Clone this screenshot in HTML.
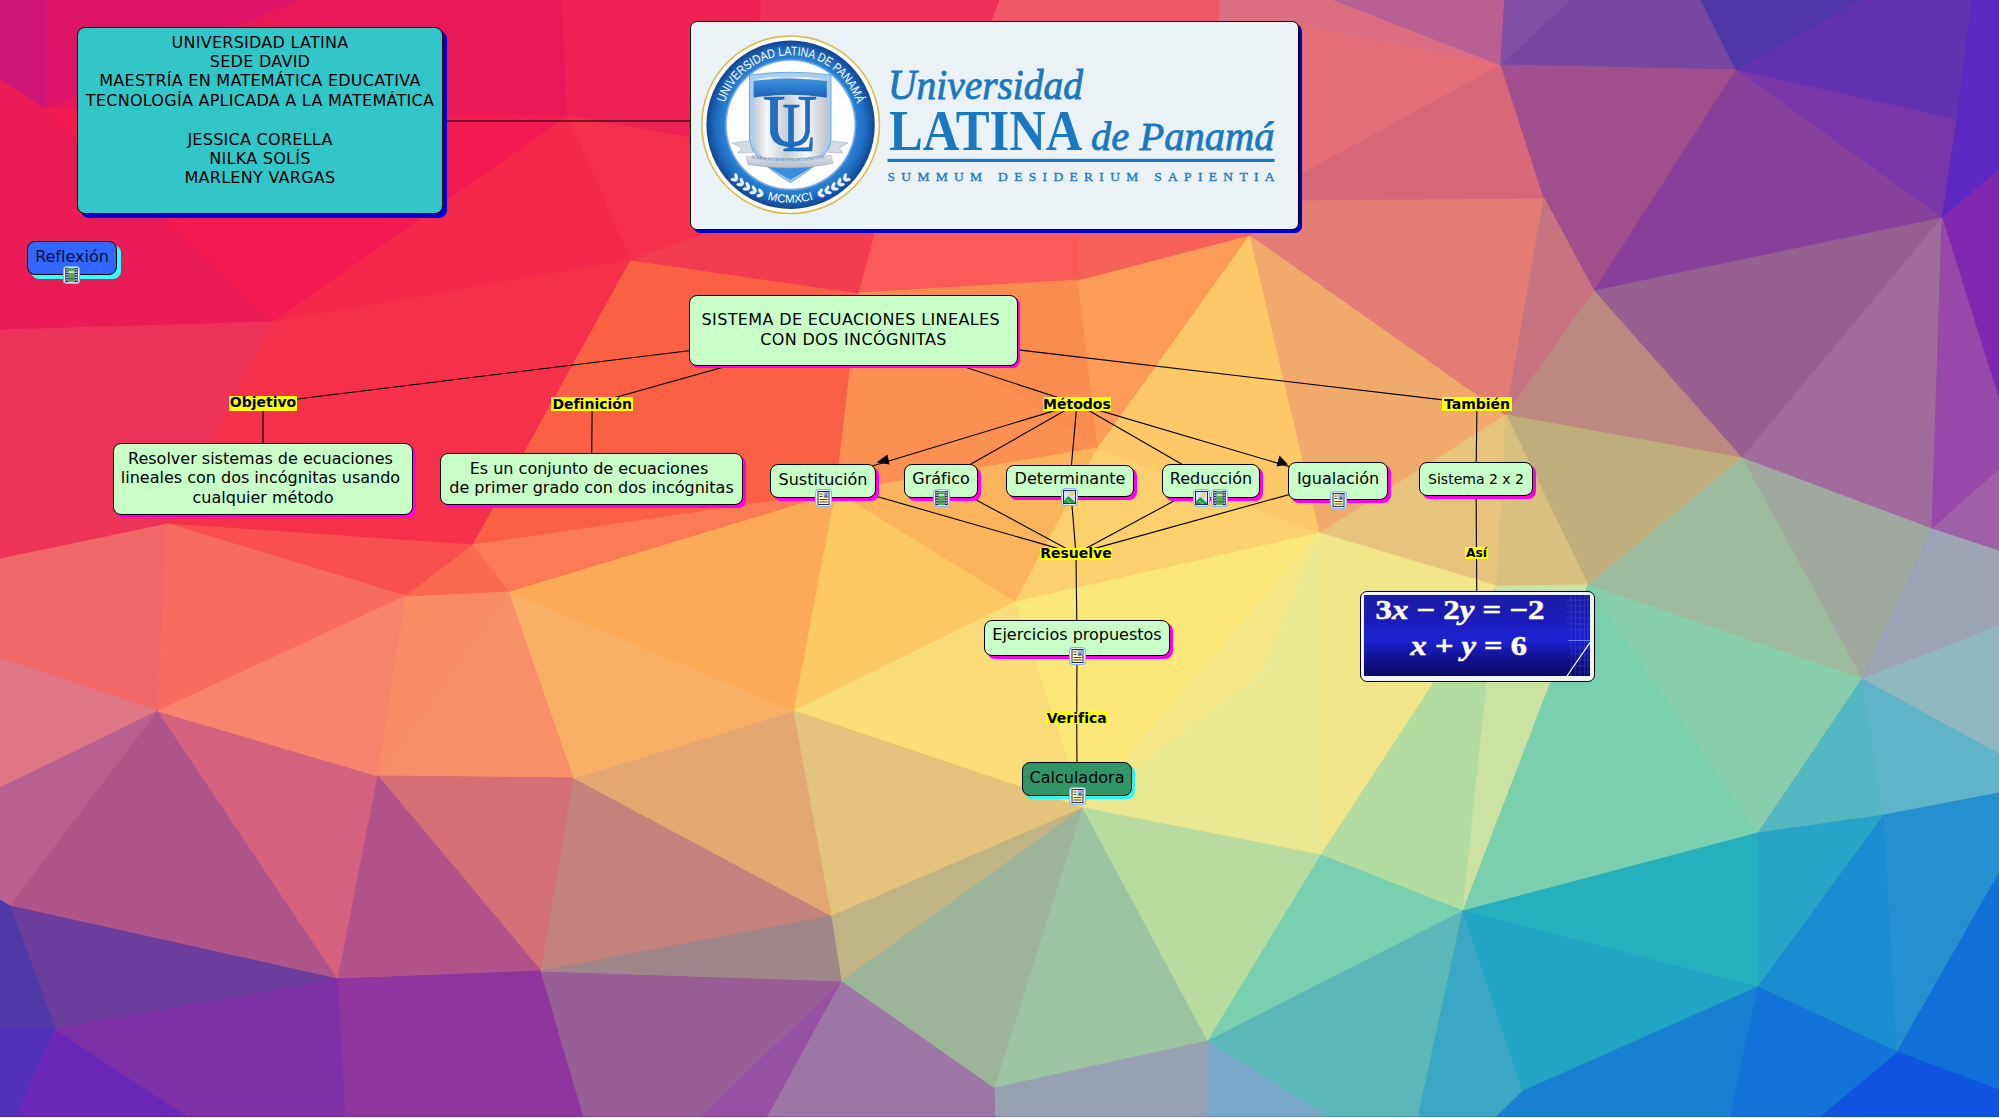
<!DOCTYPE html><html lang="es"><head><meta charset="utf-8"><title>Sistema de ecuaciones lineales con dos incógnitas</title><style>
html,body{margin:0;padding:0;}
body{width:1999px;height:1118px;position:relative;overflow:hidden;background:#f0a060;font-family:"DejaVu Sans","Liberation Sans",sans-serif;color:#000;}
#bg,#ln{position:absolute;left:0;top:0;}
.n{position:absolute;box-sizing:border-box;border:1px solid #000;border-radius:8px;text-align:center;line-height:19.4px;white-space:nowrap;}
.l{position:absolute;font-weight:bold;background:#ffff08;white-space:nowrap;}.l span{position:absolute;left:0;right:0;text-align:center;}
.ic{position:absolute;}
#logo{position:absolute;left:690px;top:21px;width:609px;height:209px;box-sizing:border-box;border:1px solid #000;border-radius:7px;background:#eaf2f5;box-shadow:3px 3px 0 #0000c8;overflow:hidden;}
#eq{position:absolute;left:1360px;top:591px;width:235px;height:91px;box-sizing:border-box;border:1px solid #000;border-radius:7px;background:#eef4f8;overflow:hidden;}
</style></head><body>
<svg id="bg" width="1999" height="1118" viewBox="0 0 1999 1118" shape-rendering="geometricPrecision">
<rect width="1999" height="1118" fill="#f0a060"/>
<polygon fill="#f41c50" stroke="#f41c50" stroke-width="1" points="0,0 760,0 760,640 0,640"/>
<polygon fill="#ee3058" stroke="#ee3058" stroke-width="1" points="760,0 1000,0 900,260 760,260"/>
<polygon fill="#f0586a" stroke="#f0586a" stroke-width="1" points="1000,0 1220,0 1220,260 900,260"/>
<polygon fill="#e66e78" stroke="#e66e78" stroke-width="1" points="1220,0 1300,0 1300,260 1220,260"/>
<polygon fill="#dc6e84" stroke="#dc6e84" stroke-width="1" points="1220,0 1300,0 1300,24 1220,24"/>
<polygon fill="#de1468" stroke="#de1468" stroke-width="1" points="46,0 300,0 46,109"/>
<polygon fill="#e81858" stroke="#e81858" stroke-width="1" points="300,0 561,0 568,116 46,109"/>
<polygon fill="#cc1678" stroke="#cc1678" stroke-width="1" points="0,0 46,0 46,109 0,80"/>
<polygon fill="#ea1c58" stroke="#ea1c58" stroke-width="1" points="0,80 46,109 273,322 0,330"/>
<polygon fill="#f41a52" stroke="#f41a52" stroke-width="1" points="46,109 568,116 273,322"/>
<polygon fill="#f4284a" stroke="#f4284a" stroke-width="1" points="568,116 631,260 273,322"/>
<polygon fill="#ee2252" stroke="#ee2252" stroke-width="1" points="561,0 760,0 760,150 568,116"/>
<polygon fill="#f4304c" stroke="#f4304c" stroke-width="1" points="568,116 760,150 760,215 631,260"/>
<polygon fill="#ee3358" stroke="#ee3358" stroke-width="1" points="0,330 273,322 168,524 0,559"/>
<polygon fill="#f5304a" stroke="#f5304a" stroke-width="1" points="273,322 631,260 473,545 168,524"/>
<polygon fill="#f8504e" stroke="#f8504e" stroke-width="1" points="168,524 473,545 406,596"/>
<polygon fill="#f06868" stroke="#f06868" stroke-width="1" points="0,559 168,524 158,711 0,658"/>
<polygon fill="#f86c60" stroke="#f86c60" stroke-width="1" points="168,524 406,596 158,711"/>
<polygon fill="#de7684" stroke="#de7684" stroke-width="1" points="0,658 158,711 0,788"/>
<polygon fill="#b86090" stroke="#b86090" stroke-width="1" points="0,788 158,711 10,906 0,900"/>
<polygon fill="#b0558a" stroke="#b0558a" stroke-width="1" points="158,711 338,979 10,906"/>
<polygon fill="#d4627f" stroke="#d4627f" stroke-width="1" points="158,711 378,776 338,979"/>
<polygon fill="#f8846e" stroke="#f8846e" stroke-width="1" points="158,711 406,596 378,776"/>
<polygon fill="#fa8c64" stroke="#fa8c64" stroke-width="1" points="406,596 509,591 378,776"/>
<polygon fill="#f79068" stroke="#f79068" stroke-width="1" points="509,591 574,778 378,776"/>
<polygon fill="#d57076" stroke="#d57076" stroke-width="1" points="378,776 574,778 541,971"/>
<polygon fill="#b3528a" stroke="#b3528a" stroke-width="1" points="378,776 541,971 338,979"/>
<polygon fill="#6b3e9e" stroke="#6b3e9e" stroke-width="1" points="10,906 338,979 55,1029"/>
<polygon fill="#503aa8" stroke="#503aa8" stroke-width="1" points="0,900 10,906 55,1029 0,1029"/>
<polygon fill="#5030b8" stroke="#5030b8" stroke-width="1" points="0,1029 55,1029 15,1118 0,1118"/>
<polygon fill="#6a28b8" stroke="#6a28b8" stroke-width="1" points="55,1029 190,1118 15,1118"/>
<polygon fill="#7e30a6" stroke="#7e30a6" stroke-width="1" points="55,1029 338,979 346,1118 190,1118"/>
<polygon fill="#8e369e" stroke="#8e369e" stroke-width="1" points="338,979 541,971 584,1118 346,1118"/>
<polygon fill="#985e96" stroke="#985e96" stroke-width="1" points="541,971 842,981 767,1118 584,1118"/>
<polygon fill="#9850a4" stroke="#9850a4" stroke-width="1" points="842,981 767,1118 700,1118"/>
<polygon fill="#9c76a4" stroke="#9c76a4" stroke-width="1" points="842,981 995,1088 996,1118 767,1118"/>
<polygon fill="#c3827c" stroke="#c3827c" stroke-width="1" points="574,778 832,916 541,971"/>
<polygon fill="#a0858a" stroke="#a0858a" stroke-width="1" points="541,971 832,916 842,981"/>
<polygon fill="#e3a872" stroke="#e3a872" stroke-width="1" points="794,711 574,778 832,916"/>
<polygon fill="#f9b066" stroke="#f9b066" stroke-width="1" points="509,591 794,711 574,778"/>
<polygon fill="#fcaa58" stroke="#fcaa58" stroke-width="1" points="509,591 836,492 794,711"/>
<polygon fill="#fa6044" stroke="#fa6044" stroke-width="1" points="631,260 859,293 836,492 509,591 473,545"/>
<polygon fill="#fa6a50" stroke="#fa6a50" stroke-width="1" points="473,545 406,596 509,591"/>
<polygon fill="#fb7c54" stroke="#fb7c54" stroke-width="1" points="473,545 836,492 509,591"/>
<polygon fill="#f43c50" stroke="#f43c50" stroke-width="1" points="760,215 631,260 859,293 880,215"/>
<polygon fill="#fa5a58" stroke="#fa5a58" stroke-width="1" points="859,293 880,215 1078,215 1078,280"/>
<polygon fill="#fb8c50" stroke="#fb8c50" stroke-width="1" points="859,293 1078,280 1098,448"/>
<polygon fill="#fb9052" stroke="#fb9052" stroke-width="1" points="859,293 1098,448 836,492"/>
<polygon fill="#fcb45c" stroke="#fcb45c" stroke-width="1" points="836,492 1098,448 1015,602"/>
<polygon fill="#fcc962" stroke="#fcc962" stroke-width="1" points="836,492 1015,602 794,711"/>
<polygon fill="#fcd06c" stroke="#fcd06c" stroke-width="1" points="1098,448 1320,533 1015,602"/>
<polygon fill="#fc9c58" stroke="#fc9c58" stroke-width="1" points="1078,280 1250,235 1098,448"/>
<polygon fill="#fcc868" stroke="#fcc868" stroke-width="1" points="1250,235 1320,533 1098,448"/>
<polygon fill="#f0aa6c" stroke="#f0aa6c" stroke-width="1" points="1250,235 1506,415 1320,533"/>
<polygon fill="#e47c76" stroke="#e47c76" stroke-width="1" points="1250,235 1300,200 1544,198 1506,415"/>
<polygon fill="#f8605a" stroke="#f8605a" stroke-width="1" points="1078,215 1078,280 1250,235 1300,200 1300,215"/>
<polygon fill="#e66e78" stroke="#e66e78" stroke-width="1" points="1290,0 1334,0 1501,65 1300,175 1290,175"/>
<polygon fill="#dc6e84" stroke="#dc6e84" stroke-width="1" points="1290,0 1334,0 1501,65 1290,22"/>
<polygon fill="#d86878" stroke="#d86878" stroke-width="1" points="1501,65 1544,198 1300,200 1300,175"/>
<polygon fill="#b86094" stroke="#b86094" stroke-width="1" points="1334,0 1505,0 1501,65"/>
<polygon fill="#7848a0" stroke="#7848a0" stroke-width="1" points="1505,0 1701,0 1736,70 1501,65"/>
<polygon fill="#8050a4" stroke="#8050a4" stroke-width="1" points="1505,0 1570,0 1501,65"/>
<polygon fill="#5038a8" stroke="#5038a8" stroke-width="1" points="1701,0 1862,0 1736,70"/>
<polygon fill="#6232b0" stroke="#6232b0" stroke-width="1" points="1862,0 1972,0 1957,120 1736,70"/>
<polygon fill="#7838aa" stroke="#7838aa" stroke-width="1" points="1736,70 1957,120 1942,218"/>
<polygon fill="#5c28c0" stroke="#5c28c0" stroke-width="1" points="1972,0 1999,0 1999,170 1942,218 1957,120"/>
<polygon fill="#8028b0" stroke="#8028b0" stroke-width="1" points="1942,218 1999,170 1999,400"/>
<polygon fill="#a0508f" stroke="#a0508f" stroke-width="1" points="1501,65 1736,70 1544,198"/>
<polygon fill="#a04e8c" stroke="#a04e8c" stroke-width="1" points="1736,70 1594,291 1544,198"/>
<polygon fill="#88409a" stroke="#88409a" stroke-width="1" points="1736,70 1942,218 1594,291"/>
<polygon fill="#c87480" stroke="#c87480" stroke-width="1" points="1544,198 1594,291 1506,415"/>
<polygon fill="#966090" stroke="#966090" stroke-width="1" points="1594,291 1942,218 1742,458"/>
<polygon fill="#bc8880" stroke="#bc8880" stroke-width="1" points="1594,291 1742,458 1506,415"/>
<polygon fill="#a06c9c" stroke="#a06c9c" stroke-width="1" points="1942,218 1932,529 1742,458"/>
<polygon fill="#9848a8" stroke="#9848a8" stroke-width="1" points="1942,218 1999,400 1999,470 1932,529"/>
<polygon fill="#a060a8" stroke="#a060a8" stroke-width="1" points="1932,529 1999,470 1999,551"/>
<polygon fill="#c0ad7c" stroke="#c0ad7c" stroke-width="1" points="1506,415 1742,458 1588,585"/>
<polygon fill="#a0a8a0" stroke="#a0a8a0" stroke-width="1" points="1742,458 1932,529 1862,679"/>
<polygon fill="#9cba9c" stroke="#9cba9c" stroke-width="1" points="1742,458 1862,679 1588,585"/>
<polygon fill="#9ca4b6" stroke="#9ca4b6" stroke-width="1" points="1932,529 1999,551 1999,626 1862,679"/>
<polygon fill="#90b8c0" stroke="#90b8c0" stroke-width="1" points="1862,679 1999,626 1999,754"/>
<polygon fill="#e6c47c" stroke="#e6c47c" stroke-width="1" points="1320,533 1506,415 1497,586"/>
<polygon fill="#d8c080" stroke="#d8c080" stroke-width="1" points="1506,415 1588,585 1497,586"/>
<polygon fill="#fbe878" stroke="#fbe878" stroke-width="1" points="1015,602 1320,533 1083,808"/>
<polygon fill="#fadc78" stroke="#fadc78" stroke-width="1" points="1015,602 1083,808 794,711"/>
<polygon fill="#e9e890" stroke="#e9e890" stroke-width="1" points="1320,533 1321,855 1083,808"/>
<polygon fill="#f4e686" stroke="#f4e686" stroke-width="1" points="1320,533 1262,672 1083,808"/>
<polygon fill="#f2e488" stroke="#f2e488" stroke-width="1" points="1320,533 1497,586 1321,855"/>
<polygon fill="#b2dca0" stroke="#b2dca0" stroke-width="1" points="1321,855 1497,586 1463,911"/>
<polygon fill="#cce2a0" stroke="#cce2a0" stroke-width="1" points="1497,586 1588,585 1463,911"/>
<polygon fill="#7acfae" stroke="#7acfae" stroke-width="1" points="1588,585 1758,833 1463,911"/>
<polygon fill="#88ceac" stroke="#88ceac" stroke-width="1" points="1588,585 1862,679 1758,833"/>
<polygon fill="#54b6c0" stroke="#54b6c0" stroke-width="1" points="1862,679 1884,815 1758,833"/>
<polygon fill="#60b4c8" stroke="#60b4c8" stroke-width="1" points="1862,679 1999,754 1999,793 1884,815"/>
<polygon fill="#e4c47c" stroke="#e4c47c" stroke-width="1" points="794,711 1083,808 832,916"/>
<polygon fill="#c0b484" stroke="#c0b484" stroke-width="1" points="832,916 1083,808 842,981"/>
<polygon fill="#9cb498" stroke="#9cb498" stroke-width="1" points="842,981 1083,808 995,1088"/>
<polygon fill="#9cc4a0" stroke="#9cc4a0" stroke-width="1" points="1083,808 995,1088 1208,1041"/>
<polygon fill="#b8dca0" stroke="#b8dca0" stroke-width="1" points="1083,808 1208,1041 1321,855"/>
<polygon fill="#78d0b0" stroke="#78d0b0" stroke-width="1" points="1321,855 1208,1041 1463,911"/>
<polygon fill="#98a0b4" stroke="#98a0b4" stroke-width="1" points="995,1088 1208,1041 1208,1118 996,1118"/>
<polygon fill="#78a8c8" stroke="#78a8c8" stroke-width="1" points="1208,1041 1331,1118 1208,1118"/>
<polygon fill="#5cb8b8" stroke="#5cb8b8" stroke-width="1" points="1208,1041 1463,911 1418,1118 1331,1118"/>
<polygon fill="#3aa8c4" stroke="#3aa8c4" stroke-width="1" points="1463,911 1523,1091 1495,1118 1418,1118"/>
<polygon fill="#26b0be" stroke="#26b0be" stroke-width="1" points="1463,911 1758,833 1758,987"/>
<polygon fill="#22a4c4" stroke="#22a4c4" stroke-width="1" points="1463,911 1758,987 1523,1091"/>
<polygon fill="#1880d0" stroke="#1880d0" stroke-width="1" points="1523,1091 1758,987 1730,1118 1495,1118"/>
<polygon fill="#28a4c8" stroke="#28a4c8" stroke-width="1" points="1758,833 1884,815 1758,987"/>
<polygon fill="#1a8cd0" stroke="#1a8cd0" stroke-width="1" points="1884,815 1758,987 1897,1052"/>
<polygon fill="#2490d0" stroke="#2490d0" stroke-width="1" points="1884,815 1999,793 1999,873 1897,1052"/>
<polygon fill="#1070d8" stroke="#1070d8" stroke-width="1" points="1897,1052 1999,873 1999,1090"/>
<polygon fill="#1054e0" stroke="#1054e0" stroke-width="1" points="1897,1052 1999,1090 1999,1118 1818,1118"/>
<polygon fill="#1274d8" stroke="#1274d8" stroke-width="1" points="1758,987 1897,1052 1818,1118 1730,1118"/>
</svg>
<svg id="ln" width="1999" height="1118" viewBox="0 0 1999 1118"><g stroke="#000" stroke-width="1.1" fill="none"><line x1="260" y1="121" x2="995" y2="121"/><line x1="853.5" y1="330.5" x2="263" y2="403.2"/><line x1="853.5" y1="330.5" x2="592.15" y2="404"/><line x1="853.5" y1="330.5" x2="1076.95" y2="403.85"/><line x1="853.5" y1="330.5" x2="1477" y2="403.9"/><line x1="263" y1="403.2" x2="263" y2="479"/><line x1="592.15" y1="404" x2="591.5" y2="479"/><line x1="1076.95" y1="403.85" x2="823" y2="481"/><line x1="1076.95" y1="403.85" x2="941" y2="481"/><line x1="1076.95" y1="403.85" x2="1070" y2="481"/><line x1="1076.95" y1="403.85" x2="1211" y2="481"/><line x1="1076.95" y1="403.85" x2="1338" y2="481"/><line x1="823" y1="481" x2="1075.95" y2="553.65"/><line x1="941" y1="481" x2="1075.95" y2="553.65"/><line x1="1070" y1="481" x2="1075.95" y2="553.65"/><line x1="1211" y1="481" x2="1075.95" y2="553.65"/><line x1="1338" y1="481" x2="1075.95" y2="553.65"/><line x1="1075.95" y1="553.65" x2="1077" y2="638"/><line x1="1077" y1="638" x2="1076.75" y2="718.2"/><line x1="1076.75" y1="718.2" x2="1077" y2="779"/><line x1="1477" y1="403.9" x2="1476" y2="479"/><line x1="1476" y1="479" x2="1476.5" y2="553.4"/><line x1="1476.5" y1="553.4" x2="1477" y2="636"/></g><polygon points="876.5,462.5 887.5,454.5 889.5,464.5" fill="#000"/><polygon points="1288,464.5 1276.5,466.5 1279.5,455.5" fill="#000"/></svg>
<div class="n" id="title" style="left:77px;top:27px;width:366px;height:187px;background:#33c6c8;box-shadow:4px 4px 0 #0000d0;font-size:16px;padding-top:4.56px;letter-spacing:0.27px;">UNIVERSIDAD LATINA<br>SEDE DAVID<br>MAESTRÍA EN MATEMÁTICA EDUCATIVA<br>TECNOLOGÍA APLICADA A LA MATEMÁTICA<br><br>JESSICA CORELLA<br>NILKA SOLÍS<br>MARLENY VARGAS</div>
<div class="n" id="refl" style="left:27px;top:241px;width:90px;height:34px;background:#3366ff;box-shadow:4px 4px 0 #33ffff;font-size:16px;padding-top:5.36px;color:#001040;">Reflexión</div>
<div class="n" id="main" style="left:689px;top:295px;width:329px;height:71px;background:#c8ffc8;box-shadow:2px 2px 0 #ff00e4;font-size:16px;padding-top:14.36px;letter-spacing:0.36px;">SISTEMA DE ECUACIONES LINEALES&nbsp;<br>CON DOS INCÓGNITAS</div>
<div class="n" id="resolver" style="left:113px;top:443px;width:300px;height:72px;background:#c8ffc8;box-shadow:3px 3px 0 #ff00e4;font-size:16px;padding-top:4.96px;">Resolver sistemas de ecuaciones&nbsp;<br>lineales con dos incógnitas usando&nbsp;<br>cualquier método</div>
<div class="n" id="esun" style="left:440px;top:453px;width:303px;height:52px;background:#c8ffc8;box-shadow:3px 3px 0 #ff00e4;font-size:16px;padding-top:4.86px;">Es un conjunto de ecuaciones&nbsp;<br>de primer grado con dos incógnitas</div>
<div class="n" id="sust" style="left:770px;top:464px;width:106px;height:34px;background:#c8ffc8;box-shadow:3px 3px 0 #ff00e4;font-size:16px;padding-top:4.66px;">Sustitución</div>
<div class="n" id="graf" style="left:904px;top:464px;width:74px;height:34px;background:#c8ffc8;box-shadow:3px 3px 0 #ff00e4;font-size:16px;padding-top:4.36px;">Gráfico</div>
<div class="n" id="det" style="left:1006px;top:465px;width:128px;height:32px;background:#c8ffc8;box-shadow:3px 3px 0 #ff00e4;font-size:16px;padding-top:3.06px;">Determinante</div>
<div class="n" id="red" style="left:1162px;top:464px;width:98px;height:34px;background:#c8ffc8;box-shadow:3px 3px 0 #ff00e4;font-size:16px;padding-top:4.06px;">Reducción</div>
<div class="n" id="igual" style="left:1288px;top:462px;width:100px;height:38px;background:#c8ffc8;box-shadow:3px 3px 0 #ff00e4;font-size:16px;padding-top:5.96px;">Igualación</div>
<div class="n" id="sist" style="left:1419px;top:462px;width:114px;height:34px;background:#c8ffc8;box-shadow:3px 3px 0 #ff00e4;font-size:14px;padding-top:7.06px;">Sistema 2 x 2</div>
<div class="n" id="ejer" style="left:984px;top:620px;width:186px;height:36px;background:#c8ffc8;box-shadow:3px 3px 0 #ff00e4;font-size:16px;padding-top:4.06px;">Ejercicios propuestos</div>
<div class="n" id="calc" style="left:1022px;top:762px;width:110px;height:34px;background:#309668;box-shadow:3px 3px 0 #2cf4f4;font-size:16px;padding-top:4.76px;">Calculadora</div>
<div class="l" style="left:229px;top:395.6px;width:68.0px;height:15.2px;font-size:14px;line-height:16.30px;"><span style="top:-2.09px">Objetivo</span></div>
<div class="l" style="left:551.4px;top:397px;width:81.5px;height:14.0px;font-size:14px;line-height:16.30px;"><span style="top:-0.74px">Definición</span></div>
<div class="l" style="left:1042.7px;top:396.8px;width:68.5px;height:14.1px;font-size:14px;line-height:16.30px;"><span style="top:-0.59px">Métodos</span></div>
<div class="l" style="left:1442px;top:396.9px;width:70.0px;height:14.0px;font-size:14px;line-height:16.30px;"><span style="top:-0.59px">También</span></div>
<div class="l" style="left:1040.2px;top:547.7px;width:71.5px;height:11.9px;font-size:14px;line-height:16.30px;"><span style="top:-2.69px">Resuelve</span></div>
<div class="l" style="left:1465px;top:547.4px;width:23.0px;height:12.0px;font-size:12.3px;line-height:14.32px;"><span style="top:-1.11px">Así</span></div>
<div class="l" style="left:1045.8px;top:712px;width:61.9px;height:12.4px;font-size:14px;line-height:16.30px;"><span style="top:-2.29px">Verifica</span></div>
<div id="logo"><svg width="607" height="207" viewBox="691 22 607 207" style="position:absolute;left:0;top:0">
<defs>
<radialGradient id="rg" cx="790.6" cy="124.75" r="84" gradientUnits="userSpaceOnUse"><stop offset="0.76" stop-color="#9cc4ec"/><stop offset="0.79" stop-color="#2a7fd2"/><stop offset="0.88" stop-color="#2070c4"/><stop offset="1" stop-color="#124596"/></radialGradient>
<linearGradient id="sh" x1="751" y1="0" x2="830" y2="0" gradientUnits="userSpaceOnUse"><stop offset="0" stop-color="#b8c0c8"/><stop offset="0.2" stop-color="#f4f6f8"/><stop offset="0.45" stop-color="#c9d0d8"/><stop offset="0.7" stop-color="#f6f8fa"/><stop offset="1" stop-color="#b4bcc6"/></linearGradient>
<linearGradient id="bb" x1="0" y1="80" x2="0" y2="98" gradientUnits="userSpaceOnUse"><stop offset="0" stop-color="#3a90dc"/><stop offset="1" stop-color="#1a5fb4"/></linearGradient>
<linearGradient id="rb" x1="0" y1="150" x2="0" y2="168" gradientUnits="userSpaceOnUse"><stop offset="0" stop-color="#f4f6f8"/><stop offset="1" stop-color="#b4bcc8"/></linearGradient>
<path id="arcT" d="M724.65,102.8 A69.5,69.5 0 0 1 856.96,104.08"/>
<path id="arcB" d="M767.4,199.3 A78,78 0 0 0 813.8,199.3"/>
<path id="arcR" d="M751,158.2 Q790,165 829,157.2"/>
</defs>
<g fill="#1a78c0" stroke="#1a78c0" stroke-width="0" font-family="'Liberation Serif',serif">
<text x="888" y="99.4" font-size="43" font-style="italic" stroke-width="0.9" textLength="195" lengthAdjust="spacingAndGlyphs">Universidad</text>
<text x="889" y="150" font-size="57" font-weight="bold" textLength="193.5" lengthAdjust="spacingAndGlyphs">LATINA</text>
<text x="1091" y="149.5" font-size="41" font-style="italic" stroke-width="0.8" textLength="183.5" lengthAdjust="spacingAndGlyphs">de Panamá</text>
<rect x="887.5" y="158.8" width="387" height="3.2"/>
<text x="887.5" y="181" font-size="13.5" stroke-width="0.35" textLength="387" lengthAdjust="spacing">SUMMUM DESIDERIUM SAPIENTIA</text>
</g>
<g>
<circle cx="790.6" cy="124.75" r="89.6" fill="#d6bc50"/>
<circle cx="790.6" cy="124.75" r="88" fill="#fdfdf6"/>
<circle cx="790.6" cy="124.75" r="84.2" fill="url(#rg)"/>
<circle cx="790.6" cy="124.75" r="63.8" fill="#fefefe"/>
<!-- ribbon tails -->
<path d="M732,143 L751,140.5 L753,152.5 L738,153 L742,148 Z" fill="#d4dae2" stroke="#9aa4b2" stroke-width=".5"/>
<path d="M848,143 L830,140.5 L828,152.5 L843,153 L839,148 Z" fill="#d4dae2" stroke="#9aa4b2" stroke-width=".5"/>
<!-- shield -->
<path d="M749.5,75 Q790,69.5 831,75 L831,139 Q829,160 790.3,182.5 Q751.5,160 749.5,139 Z" fill="#a9cdee" stroke="#5a9ad8" stroke-width=".8"/>
<path d="M753,79 Q790,74 827.5,79 L827.5,139 Q825.5,157 790.3,178 Q755,157 753,139 Z" fill="url(#sh)"/>
<path d="M753.6,81 Q790,76 826.8,81 L826.8,97.5 Q790,92 753.6,97.5 Z" fill="url(#bb)"/>
<path d="M757,160.5 Q790,168 823.5,160.5 L790.3,180 Z" fill="#3a8fdc"/>
<g font-family="'Liberation Serif',serif" fill="#1d6fc0" stroke="#1560b0" stroke-width=".6">
<text x="762.5" y="146.3" font-size="75" textLength="55" lengthAdjust="spacingAndGlyphs">U</text>
<text x="782.2" y="150.8" font-size="70" textLength="33.5" lengthAdjust="spacingAndGlyphs">L</text>
</g>
<!-- ribbon -->
<path d="M746,156 Q790,163 831,155 L833,163.5 Q790,172 748,164.5 Z" fill="url(#rb)" stroke="#9aa4b2" stroke-width=".5"/>
<text font-family="'Liberation Serif',serif" font-size="5" fill="#5a86b8"><textPath href="#arcR" textLength="74" lengthAdjust="spacing">SUMMUM DESIDERIUM SAPIENTIA</textPath></text>
<g font-family="'Liberation Sans',sans-serif" fill="#fff">
<text font-size="12.6"><textPath href="#arcT" textLength="174.5" lengthAdjust="spacingAndGlyphs">UNIVERSIDAD LATINA DE PANAMÁ</textPath></text>
<text font-size="11.6"><textPath href="#arcB" textLength="46.5" lengthAdjust="spacingAndGlyphs">MCMXCI</textPath></text>
</g>
<!-- laurels -->
<g fill="#eef3fb" stroke="#c9d6ee" stroke-width=".3"><ellipse cx="760.9" cy="191.7" rx="3.7" ry="1.6" transform="rotate(-126 760.9 191.7)"/><ellipse cx="759.8" cy="195.4" rx="3.3" ry="1.6" transform="rotate(168 759.8 195.4)"/><ellipse cx="754.3" cy="188.9" rx="3.7" ry="1.6" transform="rotate(-120 754.3 188.9)"/><ellipse cx="752.8" cy="192.5" rx="3.3" ry="1.6" transform="rotate(174 752.8 192.5)"/><ellipse cx="747.9" cy="185.5" rx="3.7" ry="1.6" transform="rotate(-114 747.9 185.5)"/><ellipse cx="746.1" cy="188.9" rx="3.3" ry="1.6" transform="rotate(180 746.1 188.9)"/><ellipse cx="741.9" cy="181.4" rx="3.7" ry="1.6" transform="rotate(-109 741.9 181.4)"/><ellipse cx="739.8" cy="184.6" rx="3.3" ry="1.6" transform="rotate(-175 739.8 184.6)"/><ellipse cx="736.2" cy="176.8" rx="3.7" ry="1.6" transform="rotate(-103 736.2 176.8)"/><ellipse cx="733.8" cy="179.8" rx="3.3" ry="1.6" transform="rotate(-169 733.8 179.8)"/><ellipse cx="820.3" cy="191.7" rx="3.7" ry="1.6" transform="rotate(306 820.3 191.7)"/><ellipse cx="821.4" cy="195.4" rx="3.3" ry="1.6" transform="rotate(12 821.4 195.4)"/><ellipse cx="826.9" cy="188.9" rx="3.7" ry="1.6" transform="rotate(300 826.9 188.9)"/><ellipse cx="828.4" cy="192.5" rx="3.3" ry="1.6" transform="rotate(6 828.4 192.5)"/><ellipse cx="833.3" cy="185.5" rx="3.7" ry="1.6" transform="rotate(294 833.3 185.5)"/><ellipse cx="835.1" cy="188.9" rx="3.3" ry="1.6" transform="rotate(0 835.1 188.9)"/><ellipse cx="839.3" cy="181.4" rx="3.7" ry="1.6" transform="rotate(289 839.3 181.4)"/><ellipse cx="841.4" cy="184.6" rx="3.3" ry="1.6" transform="rotate(355 841.4 184.6)"/><ellipse cx="845.0" cy="176.8" rx="3.7" ry="1.6" transform="rotate(283 845.0 176.8)"/><ellipse cx="847.4" cy="179.8" rx="3.3" ry="1.6" transform="rotate(349 847.4 179.8)"/></g>
</g>
</svg></div>

<div id="eq"><svg width="233" height="89" viewBox="1361 592 233 89" style="position:absolute;left:0;top:0">
<defs><linearGradient id="eg" x1="0" y1="595" x2="0" y2="676" gradientUnits="userSpaceOnUse"><stop offset="0" stop-color="#1a1ca4"/><stop offset="0.3" stop-color="#1a1cb8"/><stop offset="0.55" stop-color="#1c22d2"/><stop offset="0.8" stop-color="#10128c"/><stop offset="1" stop-color="#0a0a64"/></linearGradient></defs>
<rect x="1364" y="595" width="226" height="81" fill="url(#eg)"/>
<g stroke="#4a58e0" stroke-width=".7" opacity=".5">
<path d="M1571,595V676M1575.5,595V676M1580,595V676M1584.5,595V676M1588,595V676"/>
<path d="M1566,600H1590M1566,606H1590M1566,612H1590M1566,618H1590M1566,624H1590M1566,630H1590M1570,648H1590M1572,654H1590M1574,660H1590M1576,666H1590M1578,672H1590"/>
</g>
<path d="M1568,640.5H1590" stroke="#6a7cf4" stroke-width="1"/>
<path d="M1567,676 L1590,642.5" stroke="#fff" stroke-width="1.3"/>
<g fill="#fff" stroke="#fff" stroke-width="0.5" font-family="'Liberation Serif',serif" font-weight="bold" font-size="27">
<text x="1375.5" y="619" textLength="169" lengthAdjust="spacingAndGlyphs">3<tspan font-style="italic">x</tspan> − 2<tspan font-style="italic">y</tspan> = −2</text>
<text x="1410.5" y="655.4" textLength="116.5" lengthAdjust="spacingAndGlyphs"><tspan font-style="italic">x</tspan> + <tspan font-style="italic">y</tspan> = 6</text>
</g></svg></div>

<svg class="ic" style="left:63px;top:266px" width="17" height="18" viewBox="0 0 17 18"><rect x="0.6" y="0.6" width="15.8" height="16.8" rx="3" fill="#fafcff" stroke="#8db6ee" stroke-width="1.2"/><rect x="2.3" y="1.9" width="3.3" height="14.2" fill="#1c2260"/><rect x="11.4" y="1.9" width="3.3" height="14.2" fill="#1c2260"/><rect x="5.6" y="1.9" width="5.8" height="14.2" fill="#58ac50"/><rect x="5.6" y="5.3" width="5.8" height="1.5" fill="#dff4d8"/><rect x="5.6" y="12.4" width="5.8" height="0.9" fill="#2f6e2f"/><rect x="3.3" y="2.9" width="1.4" height="1.4" fill="#fff"/><rect x="12.4" y="2.9" width="1.4" height="1.4" fill="#fff"/><rect x="3.3" y="5.5" width="1.4" height="1.4" fill="#fff"/><rect x="12.4" y="5.5" width="1.4" height="1.4" fill="#fff"/><rect x="3.3" y="8.1" width="1.4" height="1.4" fill="#fff"/><rect x="12.4" y="8.1" width="1.4" height="1.4" fill="#fff"/><rect x="3.3" y="10.7" width="1.4" height="1.4" fill="#fff"/><rect x="12.4" y="10.7" width="1.4" height="1.4" fill="#fff"/><rect x="3.3" y="13.3" width="1.4" height="1.4" fill="#fff"/><rect x="12.4" y="13.3" width="1.4" height="1.4" fill="#fff"/></svg>
<svg class="ic" style="left:815px;top:489px" width="17" height="18" viewBox="0 0 17 18"><rect x="0.6" y="0.6" width="15.8" height="16.8" rx="3" fill="#fafcff" stroke="#8db6ee" stroke-width="1.2"/><rect x="3" y="2.5" width="11" height="13" fill="#fff6b8" stroke="#2a2a50" stroke-width="1"/><rect x="8.5" y="3" width="5" height="5.5" fill="#9cb8e8"/><path d="M8.5 8.5 L11 5 L13.5 8.5Z" fill="#4a6a9a"/><circle cx="12.3" cy="4.2" r="1" fill="#f08080"/><path d="M4.5 5h3M4.5 7.5h3M4.5 10.5h8M4.5 13h8" stroke="#444" stroke-width="1.1"/></svg>
<svg class="ic" style="left:933px;top:489px" width="17" height="18" viewBox="0 0 17 18"><rect x="0.6" y="0.6" width="15.8" height="16.8" rx="3" fill="#fafcff" stroke="#8db6ee" stroke-width="1.2"/><rect x="2.3" y="1.9" width="3.3" height="14.2" fill="#1c2260"/><rect x="11.4" y="1.9" width="3.3" height="14.2" fill="#1c2260"/><rect x="5.6" y="1.9" width="5.8" height="14.2" fill="#58ac50"/><rect x="5.6" y="5.3" width="5.8" height="1.5" fill="#dff4d8"/><rect x="5.6" y="12.4" width="5.8" height="0.9" fill="#2f6e2f"/><rect x="3.3" y="2.9" width="1.4" height="1.4" fill="#fff"/><rect x="12.4" y="2.9" width="1.4" height="1.4" fill="#fff"/><rect x="3.3" y="5.5" width="1.4" height="1.4" fill="#fff"/><rect x="12.4" y="5.5" width="1.4" height="1.4" fill="#fff"/><rect x="3.3" y="8.1" width="1.4" height="1.4" fill="#fff"/><rect x="12.4" y="8.1" width="1.4" height="1.4" fill="#fff"/><rect x="3.3" y="10.7" width="1.4" height="1.4" fill="#fff"/><rect x="12.4" y="10.7" width="1.4" height="1.4" fill="#fff"/><rect x="3.3" y="13.3" width="1.4" height="1.4" fill="#fff"/><rect x="12.4" y="13.3" width="1.4" height="1.4" fill="#fff"/></svg>
<svg class="ic" style="left:1061px;top:488px" width="17" height="18" viewBox="0 0 17 18"><rect x="0.6" y="0.6" width="15.8" height="16.8" rx="3" fill="#fafcff" stroke="#8db6ee" stroke-width="1.2"/><rect x="2.5" y="2.5" width="12" height="13" fill="#cfe4fb" stroke="#1a2a6a"/><circle cx="10.5" cy="6" r="1.8" fill="#ffe34a" stroke="#e0b020" stroke-width=".5"/><path d="M3 15 L3 12.5 L7.5 8 L14 14 L14 15 Z" fill="#2e9a40"/><path d="M5.5 12 L10 15" stroke="#8fd48f" stroke-width="1"/></svg>
<svg class="ic" style="left:1193px;top:489px" width="17" height="18" viewBox="0 0 17 18"><rect x="0.6" y="0.6" width="15.8" height="16.8" rx="3" fill="#fafcff" stroke="#8db6ee" stroke-width="1.2"/><rect x="2.5" y="2.5" width="12" height="13" fill="#cfe4fb" stroke="#1a2a6a"/><circle cx="10.5" cy="6" r="1.8" fill="#ffe34a" stroke="#e0b020" stroke-width=".5"/><path d="M3 15 L3 12.5 L7.5 8 L14 14 L14 15 Z" fill="#2e9a40"/><path d="M5.5 12 L10 15" stroke="#8fd48f" stroke-width="1"/></svg>
<svg class="ic" style="left:1211px;top:489px" width="17" height="18" viewBox="0 0 17 18"><rect x="0.6" y="0.6" width="15.8" height="16.8" rx="3" fill="#fafcff" stroke="#8db6ee" stroke-width="1.2"/><rect x="2.3" y="1.9" width="3.3" height="14.2" fill="#1c2260"/><rect x="11.4" y="1.9" width="3.3" height="14.2" fill="#1c2260"/><rect x="5.6" y="1.9" width="5.8" height="14.2" fill="#58ac50"/><rect x="5.6" y="5.3" width="5.8" height="1.5" fill="#dff4d8"/><rect x="5.6" y="12.4" width="5.8" height="0.9" fill="#2f6e2f"/><rect x="3.3" y="2.9" width="1.4" height="1.4" fill="#fff"/><rect x="12.4" y="2.9" width="1.4" height="1.4" fill="#fff"/><rect x="3.3" y="5.5" width="1.4" height="1.4" fill="#fff"/><rect x="12.4" y="5.5" width="1.4" height="1.4" fill="#fff"/><rect x="3.3" y="8.1" width="1.4" height="1.4" fill="#fff"/><rect x="12.4" y="8.1" width="1.4" height="1.4" fill="#fff"/><rect x="3.3" y="10.7" width="1.4" height="1.4" fill="#fff"/><rect x="12.4" y="10.7" width="1.4" height="1.4" fill="#fff"/><rect x="3.3" y="13.3" width="1.4" height="1.4" fill="#fff"/><rect x="12.4" y="13.3" width="1.4" height="1.4" fill="#fff"/></svg>
<svg class="ic" style="left:1330px;top:491px" width="17" height="18" viewBox="0 0 17 18"><rect x="0.6" y="0.6" width="15.8" height="16.8" rx="3" fill="#fafcff" stroke="#8db6ee" stroke-width="1.2"/><rect x="3" y="2.5" width="11" height="13" fill="#fff6b8" stroke="#2a2a50" stroke-width="1"/><rect x="8.5" y="3" width="5" height="5.5" fill="#9cb8e8"/><path d="M8.5 8.5 L11 5 L13.5 8.5Z" fill="#4a6a9a"/><circle cx="12.3" cy="4.2" r="1" fill="#f08080"/><path d="M4.5 5h3M4.5 7.5h3M4.5 10.5h8M4.5 13h8" stroke="#444" stroke-width="1.1"/></svg>
<svg class="ic" style="left:1069px;top:647px" width="17" height="18" viewBox="0 0 17 18"><rect x="0.6" y="0.6" width="15.8" height="16.8" rx="3" fill="#fafcff" stroke="#8db6ee" stroke-width="1.2"/><rect x="3" y="2.5" width="11" height="13" fill="#fff6b8" stroke="#2a2a50" stroke-width="1"/><rect x="8.5" y="3" width="5" height="5.5" fill="#9cb8e8"/><path d="M8.5 8.5 L11 5 L13.5 8.5Z" fill="#4a6a9a"/><circle cx="12.3" cy="4.2" r="1" fill="#f08080"/><path d="M4.5 5h3M4.5 7.5h3M4.5 10.5h8M4.5 13h8" stroke="#444" stroke-width="1.1"/></svg>
<svg class="ic" style="left:1069px;top:787px" width="17" height="18" viewBox="0 0 17 18"><rect x="0.6" y="0.6" width="15.8" height="16.8" rx="3" fill="#fafcff" stroke="#8db6ee" stroke-width="1.2"/><rect x="3" y="2.5" width="11" height="13" fill="#fff6b8" stroke="#2a2a50" stroke-width="1"/><rect x="8.5" y="3" width="5" height="5.5" fill="#9cb8e8"/><path d="M8.5 8.5 L11 5 L13.5 8.5Z" fill="#4a6a9a"/><circle cx="12.3" cy="4.2" r="1" fill="#f08080"/><path d="M4.5 5h3M4.5 7.5h3M4.5 10.5h8M4.5 13h8" stroke="#444" stroke-width="1.1"/></svg>
<div style="position:absolute;left:0;top:1116px;width:1999px;height:1px;background:rgba(40,20,40,.16)"></div><div style="position:absolute;left:0;top:1117px;width:1999px;height:1px;background:#f7effb"></div>
</body></html>
